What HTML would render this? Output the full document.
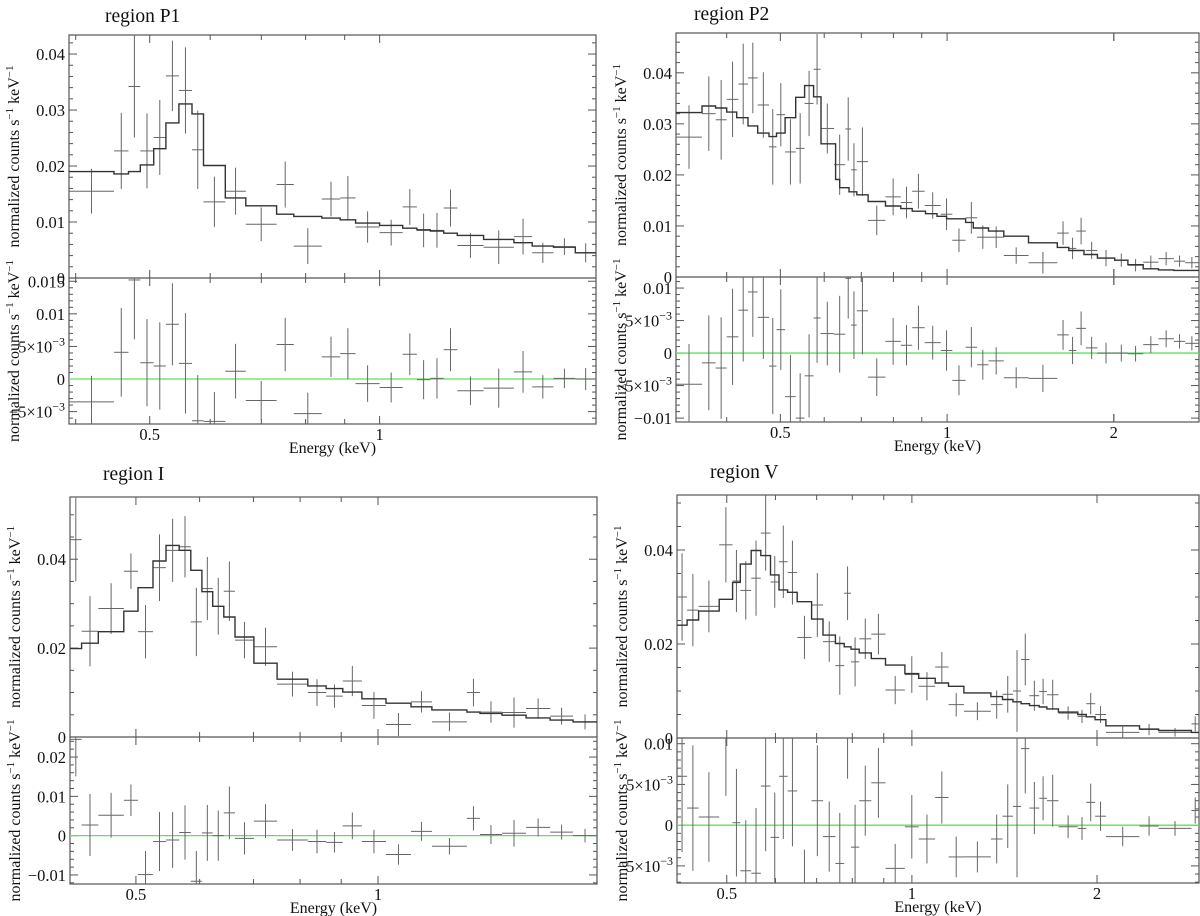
<!DOCTYPE html>
<html><head><meta charset="utf-8"><style>
body{margin:0;background:#fff}
svg{display:block;font-family:"Liberation Serif",serif}
</style></head><body>
<svg id="c" width="1200" height="916" viewBox="0 0 1200 916" xmlns="http://www.w3.org/2000/svg"></svg>
<script>
// ---------- region P1 ----------
const P1_edges=[.392,.449,.469,.486,.506,.525,.546,.568,.588,.628,.668,.733,.772,.840,.888,.930,1.0,1.072,1.119,1.165,1.213,1.264,1.368,1.499,1.584,1.689,1.804,1.920];
const P1_flux=[.0155,.0227,.0342,.0227,.0251,.0361,.0335,.0229,.0136,.0155,.0096,.0167,.0057,.0141,.0143,.0091,.0081,.0127,.0085,.0085,.0125,.0058,.0055,.0074,.0045,.0056,.0045];
const P1_err=[.0040,.0068,.0091,.0067,.0067,.0063,.0077,.0070,.0045,.0042,.0030,.0041,.0032,.0031,.0039,.0028,.0023,.0032,.0030,.0031,.0033,.0022,.0030,.0032,.0018,.0015,.0017];
const P1_modelEdges=[.392,.449,.469,.486,.506,.525,.546,.568,.588,.628,.668,.733,.772,.840,.888,.930,1.0,1.072,1.119,1.165,1.213,1.264,1.368,1.499,1.584,1.689,1.804,1.920];
const P1_model=[.0190,.0186,.0190,.0202,.0231,.0277,.0311,.0293,.0201,.0143,.0129,.0114,.0110,.0107,.0104,.0098,.0094,.0089,.0086,.0084,.0080,.0076,.0069,.0063,.0057,.0055,.0045];
// ---------- region P2 ----------
const P2_edges=[.324,.361,.382,.400,.420,.437,.455,.477,.492,.510,.533,.553,.574,.591,.625,.655,.671,.687,.720,.774,.825,.865,.911,.974,1.022,1.080,1.133,1.188,1.266,1.403,1.581,1.659,1.711,1.781,1.868,2.007,2.121,2.260,2.408,2.567,2.691,2.845];
const P2_flux=[.0274,.0320,.0308,.0348,.0378,.0390,.0337,.0255,.0318,.0245,.0252,.0340,.0407,.0291,.0220,.0290,.0210,.0226,.0111,.0157,.0146,.0168,.0140,.0123,.0072,.0116,.0078,.0078,.0042,.0028,.0086,.0056,.0090,.0052,.0037,.0033,.0023,.0029,.0036,.0031,.0028];
const P2_err=[.0062,.0073,.0078,.0074,.0079,.0069,.0064,.0074,.0062,.0064,.0069,.0064,.0069,.0049,.0059,.0062,.0052,.0067,.0029,.0036,.0031,.0034,.0026,.0031,.0023,.0031,.0023,.0021,.0016,.0021,.0023,.0021,.0026,.0017,.0016,.0013,.0012,.0013,.0013,.0011,.0011];
const P2_modelEdges=[.324,.361,.382,.400,.417,.437,.455,.477,.492,.510,.533,.553,.574,.592,.629,.640,.665,.687,.720,.774,.825,.865,.914,.959,.998,1.080,1.115,1.188,1.266,1.403,1.581,1.659,1.767,1.868,2.007,2.121,2.260,2.408,2.567,2.85];
const P2_model=[.0322,.0335,.0331,.0323,.0312,.0296,.0282,.0275,.0282,.0312,.0352,.0375,.0353,.0261,.0191,.0175,.0167,.0161,.0148,.0139,.0134,.0129,.0124,.0119,.0114,.0107,.0096,.0090,.0080,.0067,.0058,.0052,.0044,.0037,.0033,.0024,.0016,.0014,.0013];
// ---------- region I ----------
const I_edges=[.414,.428,.449,.483,.503,.525,.545,.566,.585,.604,.623,.643,.664,.701,.749,.818,.862,.904,.955,1.023,1.099,1.167,1.290,1.339,1.426,1.528,1.637,1.748,1.872];
const I_flux=[.0444,.0238,.0289,.0373,.0237,.0381,.0420,.0428,.0259,.0334,.0294,.0328,.0218,.0203,.0119,.0100,.0092,.0126,.0071,.0028,.0079,.0034,.0100,.0056,.0055,.0064,.0047,.0034];
const I_err=[.0094,.0079,.0057,.0040,.0060,.0075,.0071,.0069,.0077,.0071,.0064,.0067,.0041,.0043,.0028,.0030,.0026,.0034,.0030,.0026,.0024,.0021,.0031,.0024,.0034,.0023,.0019,.0017];
const I_modelEdges=[.414,.428,.449,.483,.503,.525,.545,.566,.585,.604,.623,.643,.664,.701,.749,.818,.862,.904,.955,1.023,1.099,1.167,1.290,1.339,1.426,1.528,1.637,1.748,1.872];
const I_model=[.0199,.0211,.0237,.0283,.0336,.0396,.0431,.0420,.0375,.0327,.0294,.0270,.0225,.0166,.0130,.0115,.0109,.0101,.0086,.0076,.0068,.0061,.0056,.0053,.0049,.0043,.0038,.0034];
// ---------- region V ----------
const V_edges=[.415,.431,.450,.486,.511,.526,.548,.568,.589,.608,.628,.651,.687,.717,.751,.776,.796,.821,.859,.906,.974,1.026,1.091,1.147,1.215,1.344,1.404,1.460,1.505,1.553,1.611,1.658,1.731,1.861,1.921,1.986,2.068,2.345,2.519,2.848,2.93];
const V_flux=[.0300,.0272,.0280,.0411,.0334,.0314,.0340,.0436,.0332,.0375,.0352,.0214,.0283,.0205,.0154,.0308,.0162,.0211,.0221,.0102,.0135,.0110,.0151,.0071,.0057,.0071,.0093,.0100,.0167,.0090,.0099,.0092,.0053,.0046,.0073,.0050,.0012,.0018,.0012,.0030];
const V_err=[.0093,.0077,.0055,.0080,.0066,.0062,.0080,.0080,.0055,.0077,.0068,.0046,.0068,.0043,.0062,.0057,.0052,.0043,.0043,.0030,.0039,.0030,.0032,.0025,.0019,.0030,.0039,.0087,.0055,.0032,.0027,.0032,.0014,.0014,.0023,.0018,.0012,.0012,.0009,.0016];
const V_modelEdges=[.415,.431,.450,.486,.511,.526,.548,.568,.589,.608,.628,.651,.687,.717,.751,.776,.796,.821,.859,.906,.974,1.026,1.091,1.147,1.215,1.344,1.404,1.460,1.505,1.553,1.611,1.658,1.731,1.861,1.921,1.986,2.068,2.345,2.519,2.848,2.93];
const V_model=[.0240,.0251,.0270,.0295,.0331,.0370,.0399,.0388,.0347,.0315,.0310,.0290,.0253,.0219,.0201,.0194,.0189,.0181,.0169,.0155,.0137,.0127,.0117,.0110,.0096,.0088,.0082,.0077,.0073,.0069,.0066,.0062,.0055,.0050,.0045,.0039,.0026,.0019,.0016,.0012];

const svg=document.getElementById('c');
const NS='http://www.w3.org/2000/svg';
function mk(tag,attrs,parent){const e=document.createElementNS(NS,tag);for(const k in attrs)e.setAttribute(k,attrs[k]);(parent||svg).appendChild(e);return e;}

const panels=[
 {id:'p1',title:'region P1',tx:105,ty:22,L:69,R:596,T:35,D:278,B:424,xmin:.392,xmax:1.92,ytop:[0,.0434],ybot:[-.0069,.0155],
  topTicks:[0,.01,.02,.03,.04],topMinor:.002,botTicks:[-.005,0,.005,.01,.015],botMinor:.001,xMajor:[.5,1],
  edges:P1_edges,flux:P1_flux,err:P1_err,mEdges:P1_modelEdges,model:P1_model},
 {id:'p2',title:'region P2',tx:694,ty:20,L:676,R:1199,T:33,D:277,B:422,xmin:.324,xmax:2.85,ytop:[0,.0478],ybot:[-.0106,.0117],
  topTicks:[0,.01,.02,.03,.04],topMinor:.002,botTicks:[-.01,-.005,0,.005,.01],botMinor:.001,xMajor:[.5,1,2],
  edges:P2_edges,flux:P2_flux,err:P2_err,mEdges:P2_modelEdges,model:P2_model},
 {id:'i',title:'region I',tx:103,ty:480,L:70,R:597,T:497,D:737,B:884,xmin:.414,xmax:1.872,ytop:[0,.054],ybot:[-.0123,.0251],
  topTicks:[0,.02,.04],topMinor:.005,botTicks:[-.01,0,.01,.02],botMinor:.002,xMajor:[.5,1],
  edges:I_edges,flux:I_flux,err:I_err,mEdges:I_modelEdges,model:I_model},
 {id:'v',title:'region V',tx:710,ty:478,L:677,R:1199,T:495,D:738,B:883,xmin:.415,xmax:2.93,ytop:[0,.0517],ybot:[-.0071,.0107],
  topTicks:[0,.02,.04],topMinor:.005,botTicks:[-.005,0,.005,.01],botMinor:.001,xMajor:[.5,1,2],
  edges:V_edges,flux:V_flux,err:V_err,mEdges:V_modelEdges,model:V_model}
];

function fmt(v){
 if(Math.abs(v)<1e-12)return '0';
 if(Math.abs(Math.abs(v)-.005)<1e-9)return (v<0?'\u22125\u00d710':'5\u00d710')+'<tspan dy="-7" font-size="12">\u22123</tspan>';
 let s=String(+v.toFixed(3));
 return s.replace('-','\u2212');
}

panels.forEach((p,pi)=>{
 const g=mk('g',{});
 
 
 const lx=Math.log(p.xmin),rx=Math.log(p.xmax);
 const X=e=>p.L+(Math.log(e)-lx)/(rx-lx)*(p.R-p.L);
 const Yt=v=>p.D-(v-p.ytop[0])/(p.ytop[1]-p.ytop[0])*(p.D-p.T);
 const Yb=v=>p.B-(v-p.ybot[0])/(p.ybot[1]-p.ybot[0])*(p.B-p.D);
 const defs=mk('defs',{},g);
 const ct=mk('clipPath',{id:'ct'+pi},defs);mk('rect',{x:p.L,y:p.T,width:p.R-p.L,height:p.D-p.T},ct);
 const cb=mk('clipPath',{id:'cb'+pi},defs);mk('rect',{x:p.L,y:p.D,width:p.R-p.L,height:p.B-p.D},cb);
 const t=mk('text',{x:p.tx,y:p.ty,'font-size':19.5,fill:'#111'},g);t.textContent=p.title;
 
 
 const fr=mk('rect',{x:p.L,y:p.T,width:p.R-p.L,height:p.B-p.T,fill:'none',stroke:'#555','stroke-width':1.2},g);
 
 
 mk('line',{x1:p.L,x2:p.R,y1:p.D,y2:p.D,stroke:'#555','stroke-width':1.2},g);
 const xt=[];
 for(let d=0.1;d<=1;d*=10){for(let k=1;k<10;k++){const e=+(k*d).toFixed(3);if(e>=p.xmin&&e<=p.xmax)xt.push(e);}}
 [2,3].forEach(e=>{if(e<=p.xmax)xt.push(e);});
 const tickG=mk('g',{stroke:'#555','stroke-width':1},g);
 
 
 xt.forEach(e=>{const x=X(e);const maj=p.xMajor.some(m=>Math.abs(m-e)<1e-6);const len=maj?8:5;
  [p.T,p.D].forEach(y=>mk('line',{x1:x,x2:x,y1:y,y2:y+len},tickG));
  [p.D,p.B].forEach(y=>mk('line',{x1:x,x2:x,y1:y,y2:y-len},tickG));
 });
 p.xMajor.forEach(e=>{const tl=mk('text',{x:X(e),y:p.B+16,'font-size':16.5,'text-anchor':'middle',fill:'#111'},g);tl.textContent=String(e);
  
  });
 const xl=mk('text',{x:(p.L+p.R)/2,y:p.B+29,'font-size':16,'text-anchor':'middle',fill:'#111'},g);xl.textContent='Energy (keV)';
 
 
 function yTicks(rng,major,minor,Y,lo,hi){
  const n0=Math.ceil(rng[0]/minor-1e-6),n1=Math.floor(rng[1]/minor+1e-6);
  for(let n=n0;n<=n1;n++){const v=n*minor;const y=Y(v);if(y<lo-0.5||y>hi+0.5)continue;const maj=major.some(m=>Math.abs(m-v)<1e-9);const len=maj?8:4;
   mk('line',{x1:p.L,x2:p.L+len,y1:y,y2:y},tickG);mk('line',{x1:p.R,x2:p.R-len,y1:y,y2:y},tickG);}
  major.forEach(v=>{const tl=mk('text',{x:p.L-4,y:Y(v)+6,'font-size':16.5,'text-anchor':'end',fill:'#111'},g);tl.innerHTML=fmt(v);
   
   });
 }
 yTicks(p.ytop,p.topTicks,p.topMinor,Yt,p.T,p.D);
 yTicks(p.ybot,p.botTicks,p.botMinor,Yb,p.D,p.B);
 [[(p.T+p.D)/2,'y-axis-title-spectrum'],[(p.D+p.B)/2,'y-axis-title-residuals']].forEach(([cy,nm])=>{
  const yl=mk('text',{x:0,y:0,'font-size':16,'text-anchor':'middle',fill:'#111',transform:`translate(${p.L-50},${cy}) rotate(-90)`},g);
  yl.innerHTML='normalized counts s<tspan dy="-6" font-size="11">\u22121</tspan><tspan dy="6"> keV</tspan><tspan dy="-6" font-size="11">\u22121</tspan>';
  
  
 });
 const zl=mk('line',{x1:p.L,x2:p.R,y1:Yb(0),y2:Yb(0),stroke:'#5be35b','stroke-width':1.3},g);
 
 
 const dg=mk('g',{stroke:'#666','stroke-width':1,'clip-path':`url(#ct${pi})`},g);
 
 
 const rg=mk('g',{stroke:'#666','stroke-width':1,'clip-path':`url(#cb${pi})`},g);
 
 
 function modelAt(e){for(let i=0;i<p.model.length;i++){if(e>=p.mEdges[i]&&e<p.mEdges[i+1])return p.model[i];}return p.model[p.model.length-1];}
 p.flux.forEach((f,i)=>{
  const lo=p.edges[i],hi=p.edges[i+1],c=Math.sqrt(lo*hi),er=p.err[i];
  const a=mk('line',{x1:X(lo),x2:X(hi),y1:Yt(f),y2:Yt(f)},dg);
  
  
  mk('line',{x1:X(c),x2:X(c),y1:Yt(f-er),y2:Yt(f+er)},dg);
  const r=f-modelAt(c);
  const b=mk('line',{x1:X(lo),x2:X(hi),y1:Yb(r),y2:Yb(r)},rg);
  
  
  mk('line',{x1:X(c),x2:X(c),y1:Yb(r-er),y2:Yb(r+er)},rg);
 });
 let d='';
 p.model.forEach((m,i)=>{const x0=X(p.mEdges[i]),x1=X(p.mEdges[i+1]),y=Yt(m);d+=(i?'L':'M')+x0.toFixed(1)+','+y.toFixed(1)+'L'+x1.toFixed(1)+','+y.toFixed(1);});
 const ml=mk('path',{d:d,fill:'none',stroke:'#333','stroke-width':1.4,'clip-path':`url(#ct${pi})`},g);
 
 
});
</script>
</body></html>
